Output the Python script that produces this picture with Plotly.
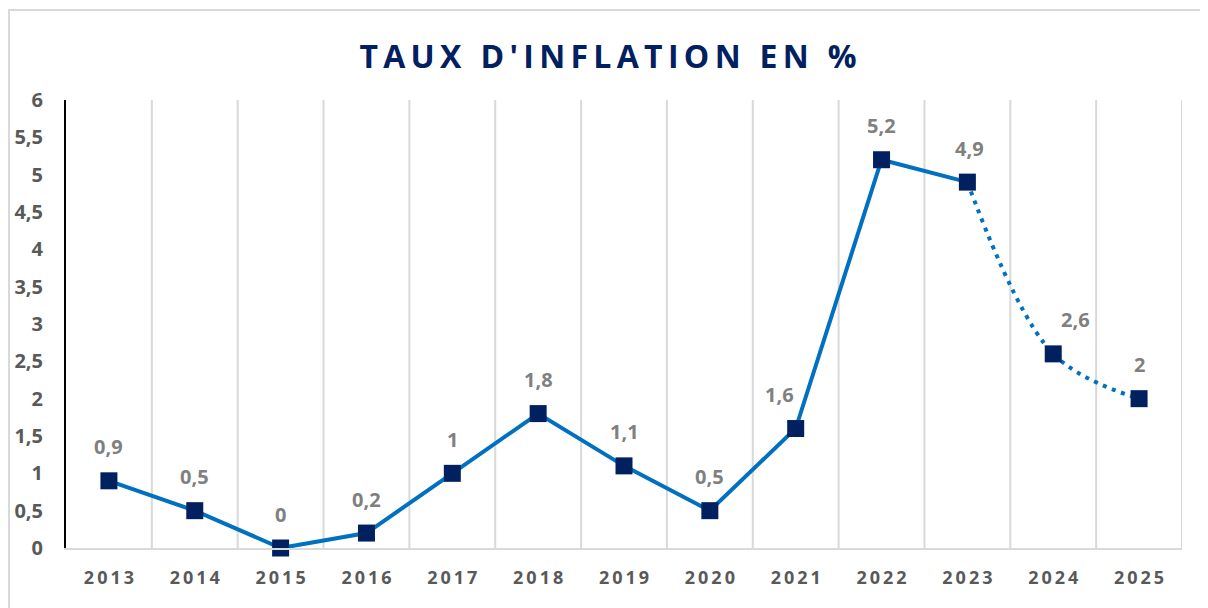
import plotly.graph_objects as go

years = ["2013", "2014", "2015", "2016", "2017", "2018", "2019", "2020", "2021", "2022", "2023", "2024", "2025"]
inflation = [0.9, 0.5, 0.0, 0.2, 1.0, 1.8, 1.1, 0.5, 1.6, 5.2, 4.9, 2.6, 2.0]
n_actual = 11  # 2013..2023 solid, 2023..2025 dotted (forecast)
y_ticks = [0, 0.5, 1, 1.5, 2, 2.5, 3, 3.5, 4, 4.5, 5, 5.5, 6]
title_text = "TAUX D'INFLATION EN %"

label_xshift = [0, 0, 0, 0, 0, 0, 0, 0, -16, 0, 2, 22, 0]

def fr(v):
    return ("%g" % v).replace(".", ",")

def spaced(s, sep="\u2009"):
    return sep.join(list(s))

LINE = "#0070C0"
NAVY = "#002060"
GREY_LBL = "#808080"
GREY_TICK = "#595959"
GRID = "#D9D9D9"

W, H = 1200, 600
ML, MR, MT, MB = 58, 26, 92, 60
PW, PH = W - ML - MR, H - MT - MB

xi = list(range(len(years)))

fig = go.Figure()

fig.add_trace(go.Scatter(
    x=xi[n_actual - 1:], y=inflation[n_actual - 1:], mode="lines",
    line=dict(color=LINE, width=4, dash="4px,5.7px", shape="spline"),
    hoverinfo="skip", showlegend=False, cliponaxis=False))

fig.add_trace(go.Scatter(
    x=xi[:n_actual], y=inflation[:n_actual], mode="lines",
    line=dict(color=LINE, width=4),
    showlegend=False, cliponaxis=False))

fig.add_trace(go.Scatter(
    x=xi, y=inflation, mode="markers",
    marker=dict(symbol="square", size=17, color=NAVY, line=dict(width=0)),
    showlegend=False, cliponaxis=False))

for i, v in enumerate(inflation):
    fig.add_annotation(x=xi[i], y=v, text=fr(v), showarrow=False,
                       yshift=34, xshift=label_xshift[i],
                       font=dict(family="Open Sans", size=20, color=GREY_LBL, weight="bold"))

# outer chart border (light grey, open on right / bottom)
fig.add_shape(type="rect", xref="paper", yref="paper",
              x0=(1 - ML) / PW, x1=1.2, y0=-0.3, y1=(H - MB - 2) / PH,
              line=dict(color=GRID, width=2), fillcolor="rgba(0,0,0,0)", layer="below")

# vertical gridlines at category boundaries
for k in range(1, len(years) + 1):
    fig.add_shape(type="line", xref="x", yref="paper", x0=k - 0.5, x1=k - 0.5, y0=0, y1=1,
                  line=dict(color=GRID, width=2), layer="below")

fig.update_layout(
    width=W, height=H,
    margin=dict(l=ML, r=MR, t=MT, b=MB, autoexpand=False),
    paper_bgcolor="white", plot_bgcolor="white",
    title=dict(text=spaced(title_text, "\u2009"), x=0.5, xref="container", xanchor="center",
               y=1 - 49 / H, yanchor="middle",
               font=dict(family="Open Sans", size=32, color=NAVY, weight="bold")),
    xaxis=dict(range=[-0.5, len(years) - 0.5], automargin=False,
               tickvals=xi, ticktext=[spaced(y, "\u2009") for y in years],
               ticks="", showgrid=False,
               showline=True, linecolor=GRID, linewidth=2, zeroline=False,
               tickfont=dict(family="Open Sans", size=18, color=GREY_TICK, weight="bold"),
               ticklabelstandoff=12),
    yaxis=dict(range=[0, 6], automargin=False, tickvals=y_ticks, ticktext=[fr(t) for t in y_ticks],
               showgrid=False, zeroline=False, showline=True, linecolor="black", linewidth=2,
               ticks="", ticklabelstandoff=17,
               tickfont=dict(family="Open Sans", size=20, color=GREY_TICK, weight="bold")),
)

fig.write_html("out.html")
